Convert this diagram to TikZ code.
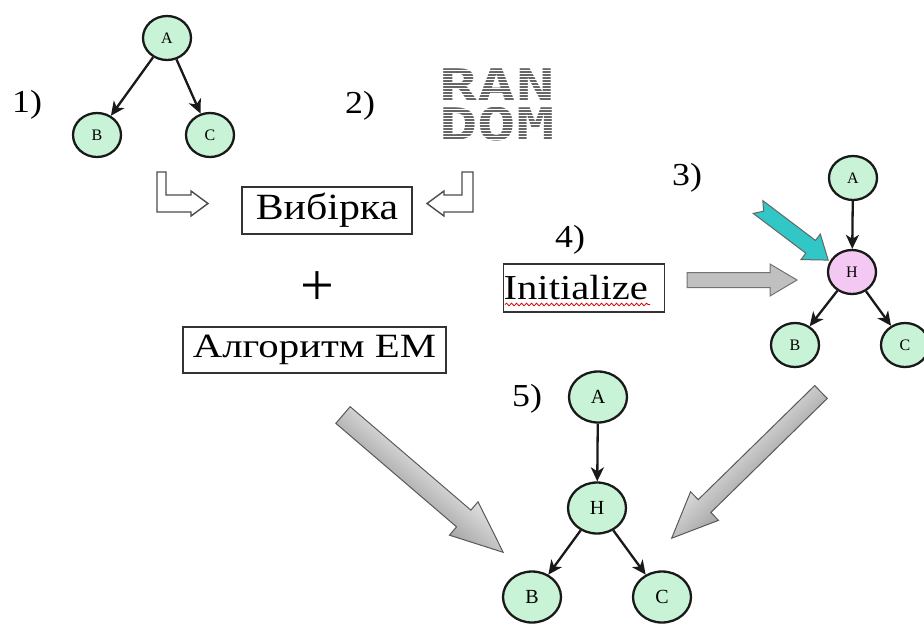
\documentclass[tikz,border=0pt]{standalone}
\usepackage{fontspec}
\setmainfont{Liberation Serif}
\newfontfamily\randfont{DejaVu Sans Mono}
\usetikzlibrary{arrows.meta,shapes.geometric,decorations.pathmorphing}

\definecolor{nodegreen}{RGB}{200,243,214}
\definecolor{nodepink}{RGB}{243,200,243}
\definecolor{tealarrow}{RGB}{50,199,199}
\definecolor{flatgray}{RGB}{192,192,192}

\tikzset{
  vnode/.style={ellipse, draw=black!90, line width=2.3pt, fill=nodegreen,
    minimum width=48pt, minimum height=44pt, inner sep=0pt,
    font=\fontsize{16}{16}\selectfont},
  bignode/.style={vnode, minimum width=58pt, minimum height=51pt,
    font=\fontsize{20}{20}\selectfont},
  hnode/.style={vnode, fill=nodepink},
  edge/.style={line width=2.3pt, draw=black!90,
    -{Stealth[length=14pt,width=13pt,inset=4pt]}},
  steplabel/.style={font=\fontsize{32}{32}\selectfont, inner sep=0pt, anchor=base west},
  textbox/.style={draw=black!80, line width=1.3pt, inner sep=0pt},
  hollowarrow/.style={draw=black!70, line width=1.4pt, fill=white, line join=miter},
  randtext/.style={font=\randfont\bfseries\fontsize{45}{39}\selectfont, text=black!60,
    inner sep=0pt, align=center},
}

% block arrow along local x: #1 length, #2 head length, #3 shaft half width, #4 head half width
\newcommand\blockpath[4]{(0,-#3) -- (#1-#2,-#3) -- (#1-#2,-#4) -- (#1,0) -- (#1-#2,#4) -- (#1-#2,#3) -- (0,#3) -- cycle}

\begin{document}
\begin{tikzpicture}[x=1pt,y=-1pt]
\useasboundingbox (0,0) rectangle (924,625);
\fill[white] (0,0) rectangle (924,625);

% ---- 1) tree A -> B, C
\node[vnode] (a1) at (167,38) {A};
\node[vnode] (b1) at (97,135) {B};
\node[vnode] (c1) at (210,135) {C};
\draw[edge] (a1) -- (b1);
\draw[edge] (a1) -- (c1);
\node[steplabel] (l1) at (12,112) {\scalebox{1.12}[1]{1)}};

% ---- 2) random data
\node[steplabel] (l2) at (345,113) {\scalebox{1.12}[1]{2)}};
\node[randtext] (rand) at (497,104.5) {\scalebox{1.42}[1]{RAN}\\\scalebox{1.42}[1]{DOM}};
\foreach \yy in {64,67,...,145}
  \draw[white, line width=1pt] (436,\yy) -- (560,\yy);

% bent hollow arrows into the sample box
\draw[hollowarrow] (157,172) -- (166,172) -- (166,195) -- (191,195) -- (191,191)
  -- (208,203.5) -- (191,216) -- (191,212) -- (157,212) -- cycle;
\draw[hollowarrow] (473,172) -- (462,172) -- (462,195) -- (444,195) -- (444,191)
  -- (427,203.5) -- (444,216) -- (444,212) -- (473,212) -- cycle;

% ---- sample + EM
\node[textbox, minimum width=170pt, minimum height=47pt] (sample) at (327,210.5)
  {\fontsize{37}{37}\selectfont\scalebox{1.13}[1]{Вибірка}};
\node[inner sep=0pt, anchor=base, font=\fontsize{60}{60}\selectfont] (plus) at (317,305) {+};
\node[textbox, minimum width=263pt, minimum height=46pt] (em) at (314.5,350)
  {\fontsize{34}{34}\selectfont\scalebox{1.2}[1]{Алгоритм ЕМ}};

% ---- 3) tree with hidden node
\node[steplabel] (l3) at (672,185) {\scalebox{1.12}[1]{3)}};
\node[vnode] (a3) at (853,178) {A};
\node[hnode] (h3) at (852,272) {H};
\node[vnode] (b3) at (795,345) {B};
\node[vnode] (c3) at (905,345) {C};
\draw[edge] (a3) -- (h3);
\draw[edge] (h3) -- (b3);
\draw[edge] (h3) -- (c3);

% notched pointer to the hidden node
\begin{scope}[transform canvas={shift={(758,207)}, rotate=-37.1}]
  \draw[fill=tealarrow, draw=black!60, line width=1pt, line join=miter]
    (7,0) -- (0,-8) -- (66,-8) -- (66,-16) -- (88,0) -- (66,16) -- (66,8) -- (0,8) -- cycle;
\end{scope}

% ---- 4) initialize
\node[steplabel] (l4) at (555,247) {\scalebox{1.12}[1]{4)}};
\node[textbox, anchor=west, minimum height=48pt, text width=161pt, align=left] (init) at (503,288)
  {\fontsize{35}{35}\selectfont\scalebox{1.16}[1]{Initialize}};
\draw[red!85!black, line width=0.8pt, decorate,
  decoration={snake, amplitude=1.3pt, segment length=5pt}] (505,304.5) -- (650,304.5);
\begin{scope}[transform canvas={shift={(687,280)}}]
  \draw[fill=flatgray, draw=black!55, line width=1pt, line join=miter] \blockpath{110}{27}{7.5}{16};
\end{scope}

% ---- 5) learned tree
\node[steplabel] (l5) at (512,406) {\scalebox{1.12}[1]{5)}};
\node[bignode] (a5) at (598,397) {A};
\node[bignode] (h5) at (597,508) {H};
\node[bignode] (b5) at (532,597) {B};
\node[bignode] (c5) at (662,597) {C};
\draw[edge] (a5) -- (h5);
\draw[edge] (h5) -- (b5);
\draw[edge] (h5) -- (c5);

% large shaded arrows into the result
\begin{scope}[transform canvas={shift={(343,415)}, rotate=-40.6}]
  \draw[draw=black!65, line width=1pt, line join=miter,
    top color=black!12, middle color=white, bottom color=black!35]
    \blockpath{211}{52}{11}{22};
\end{scope}
\begin{scope}[transform canvas={shift={(821,392)}, rotate=-135.6}]
  \draw[draw=black!65, line width=1pt, line join=miter,
    top color=black!35, middle color=white, bottom color=black!15]
    \blockpath{209}{46}{9}{20};
\end{scope}
\end{tikzpicture}
\end{document}
